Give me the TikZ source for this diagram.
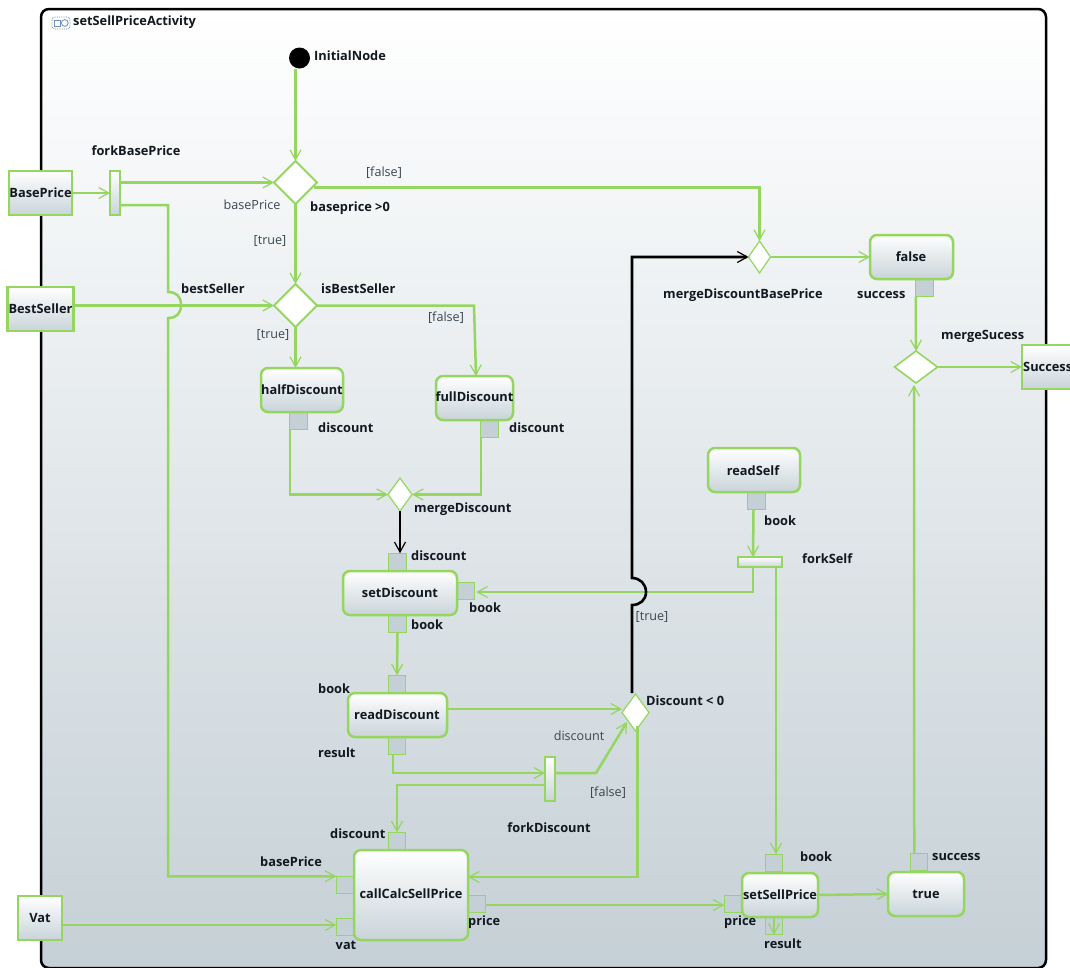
\documentclass[tikz,border=0pt]{standalone}
\usepackage{fontspec}
\setmainfont{Open Sans}
\usetikzlibrary{arrows.meta,shapes.geometric,calc}
\definecolor{gr}{HTML}{94D65F}
\definecolor{pinfill}{HTML}{C5D0D6}
\definecolor{botc}{HTML}{C9D4D9}
\definecolor{txt}{HTML}{111820}
\definecolor{txtreg}{HTML}{3A4650}
\definecolor{icon}{HTML}{6D8FB5}
\tikzset{
  x=1pt,y=-1pt,
  flow/.style={draw=gr,line width=2.5pt,-{Straight Barb[length=10pt,width=11pt,line width=1.2pt]},line join=miter},
  blackflow/.style={flow,draw=black},
  actionbox/.style={draw=gr,line width=2.5pt,rounded corners=7pt,top color=white,bottom color=botc,inner sep=0pt,outer sep=0pt},
  objbox/.style={draw=gr,line width=2.5pt,top color=white,bottom color=botc,inner sep=0pt,outer sep=0pt},
  barbox/.style={draw=gr,line width=2.2pt,top color=white,bottom color=botc,inner sep=0pt,outer sep=0pt},
  pinbox/.style={draw=gr,line width=1.1pt,fill=pinfill,minimum width=17.5pt,minimum height=17.5pt,inner sep=0pt,outer sep=0pt},
  decision/.style={diamond,draw=gr,line width=2pt,fill=white,inner sep=0pt,outer sep=0pt},
  merge/.style={decision,line width=1.2pt},
  lab/.style={font=\fontsize{12.8}{14}\selectfont\bfseries,text=txt,inner sep=0pt},
  guard/.style={font=\fontsize{12.6}{14}\selectfont,text=txtreg,inner sep=0pt},
}
\begin{document}
\begin{tikzpicture}
\useasboundingbox (0,0) rectangle (1070,967);
\clip (0,0) rectangle (1070,967);
\fill[white] (0,0) rectangle (1070,967);
% frame
\draw[black,line width=2.5pt,rounded corners=8pt,top color=white,bottom color=pinfill] (41,9) rectangle (1046,968);
% icon
\draw[icon,line width=.8pt,densely dotted,rounded corners=3pt] (52,17) rectangle (70,29);
\draw[icon,line width=.8pt] (54,20) rectangle (60,26);
\draw[icon,line width=.8pt] (64.8,23) circle (3.4);
\node[lab,anchor=west] (title) at (73,22) {setSellPriceActivity};
% nodes
\node[circle,fill=black,minimum size=21pt,inner sep=0pt,outer sep=0pt] (init) at (299.5,58) {};
\node[lab,anchor=west] (initLab) at (314,56) {InitialNode};

\node[objbox,minimum width=63pt,minimum height=44pt] (basePriceObj) at (40.5,193) {};
\node[objbox,minimum width=66pt,minimum height=44pt] (bestSellerObj) at (40.5,309) {};
\node[objbox,minimum width=44pt,minimum height=44pt] (vatObj) at (40,918) {};
\node[objbox,minimum width=60pt,minimum height=44pt] (successObj) at (1052,367) {};

\node[barbox,minimum width=10pt,minimum height=44pt] (forkBP) at (115,193) {};
\node[barbox,minimum width=10pt,minimum height=44pt] (forkDisc) at (550,779) {};
\node[barbox,minimum width=44pt,minimum height=10pt] (forkSelf) at (760,562) {};

\node[decision,minimum width=43pt,minimum height=43pt] (dBase) at (295.5,182.5) {};
\node[decision,minimum width=43pt,minimum height=43pt] (dBest) at (295.5,305.5) {};
\node[merge,minimum width=22pt,minimum height=32pt] (mBase) at (759.5,257) {};
\node[merge,line width=1.6pt,minimum width=43pt,minimum height=32pt] (mSucc) at (916,367) {};
\node[merge,minimum width=24pt,minimum height=33pt] (mDisc) at (400,494.5) {};
\node[merge,minimum width=27pt,minimum height=37pt] (dDisc) at (635.5,712.5) {};

% pins
\node[pinbox] (pHalf) at (298.5,421) {};
\node[pinbox] (pFull) at (489.5,429) {};
\node[pinbox] (pFalse) at (924.5,288) {};
\node[pinbox] (pReadSelf) at (756.5,501) {};
\node[pinbox] (pSetTop) at (397.5,562) {};
\node[pinbox] (pSetRight) at (465.5,591) {};
\node[pinbox] (pSetBot) at (397.5,624) {};
\node[pinbox] (pReadTop) at (397,684) {};
\node[pinbox] (pReadBot) at (397,746) {};
\node[pinbox] (pCallTop) at (397,841) {};
\node[pinbox] (pCallBase) at (345,885) {};
\node[pinbox] (pCallVat) at (345,927) {};
\node[pinbox] (pCallPrice) at (477,904) {};
\node[pinbox] (pSellBook) at (774,863) {};
\node[pinbox] (pSellPrice) at (733,904) {};
\node[pinbox] (pSellRes) at (774,926) {};
\node[pinbox] (pTrue) at (919,862) {};

% actions
\node[actionbox,minimum width=82pt,minimum height=44pt] (half) at (302,390) {};
\node[actionbox,minimum width=77pt,minimum height=44pt] (full) at (474.5,398) {};
\node[actionbox,minimum width=83pt,minimum height=44pt] (falseAct) at (911.5,257) {};
\node[actionbox,minimum width=92pt,minimum height=44pt] (readSelf) at (754,470) {};
\node[actionbox,minimum width=114pt,minimum height=44pt] (setDisc) at (400,593) {};
\node[actionbox,minimum width=99pt,minimum height=44pt] (readDisc) at (397.5,715) {};
\node[actionbox,minimum width=114pt,minimum height=90pt] (call) at (411,895) {};
\node[actionbox,minimum width=76pt,minimum height=44pt] (setSell) at (780,895) {};
\node[actionbox,minimum width=76pt,minimum height=44pt] (trueAct) at (926,894) {};

% connectors
\draw[flow] (init.south -| dBase.north) -- (dBase.north);
\draw[flow] (basePriceObj.east) -- (forkBP.west);
\draw[flow] ([shift={(0,-10.5)}]forkBP.east) -- (dBase.west);
\draw[flow] ([shift={(0,12)}]forkBP.east) -- ++(48,0) -- (168,292)
   .. controls (176,292) and (181,296) .. (181,305)
   .. controls (181,314) and (176,318) .. (168,318)
   |- (pCallBase.north west);
\draw[flow] (dBase.south) -- (dBest.north);
\draw[flow] ([shift={(-3,5)}]dBase.east) -| (mBase.north);
\draw[flow] (mBase.east) -- (falseAct.west);
\draw[flow] (pFalse.south west) -- (mSucc.north);
\draw[flow] (mSucc.east) -- (successObj.west);
\draw[flow] ([shift={(4,0)}]pTrue.north west) -- ([shift={(-2,2)}]mSucc.south);
\draw[flow] ([shift={(0,-3.5)}]bestSellerObj.east) -- (dBest.west);
\draw[flow] (dBest.south) -- (dBest.south |- half.north);
\draw[flow] (dBest.east) -- (474,305.5) -- (476,376);
\draw[flow] (pHalf.south west) |- (mDisc.west);
\draw[flow] (pFull.south west) |- (mDisc.east);
\draw[blackflow] (mDisc.south) -- (pSetTop.north -| mDisc.south);
\draw[flow] (pSetBot.south) -- (pReadTop.north);
\draw[flow] ([shift={(0,-6)}]readDisc.east) -- ([shift={(0,-3.5)}]dDisc.west);
\draw[flow] ([shift={(-4,0)}]pReadBot.south) |- ([shift={(0,-6)}]forkDisc.west);
\draw[flow] ([shift={(0,-6)}]forkDisc.east) -- (596,773) -- (627,722);
\draw[flow] ([shift={(0,6)}]forkDisc.west) -| (pCallTop.north);
\draw[flow] ([shift={(2,-5)}]dDisc.south) |- ([shift={(0,-18)}]call.east);
\draw[flow] ([shift={(0,1)}]pCallPrice.east) -- ([shift={(0,1)}]pSellPrice.west);
\draw[flow] ([shift={(0,7)}]vatObj.east) -- ([shift={(0,-2)}]pCallVat.west);
\draw[flow] ([shift={(-3,0)}]pReadSelf.south) -- ([shift={(-7,0)}]forkSelf.north);
\draw[flow] ([shift={(-7,0)}]forkSelf.south) |- ([shift={(2,1)}]pSetRight.east);
\draw[flow] ([shift={(16,0)}]forkSelf.south) -- ([shift={(2,0)}]pSellBook.north);
\draw[flow] (setSell.east) -- (trueAct.west);
\draw[flow] (setSell.south -| pSellRes.south) -- (pSellRes.south);
\draw[blackflow,line width=2.6pt] ([shift={(-3.5,-1)}]dDisc.north) -- (632,605)
   .. controls (640,605) and (646,600) .. (646,592)
   .. controls (646,584) and (640,578) .. (632,578)
   |- (mBase.west);

% node labels
\node[lab] at (40.5,193) {BasePrice};
\node[lab] at (40.5,309) {BestSeller};
\node[lab] at (40,918) {Vat};
\node[lab,anchor=west] at (1023,367) {Success};
\node[lab] at (302,390) {halfDiscount};
\node[lab] at (474.5,397) {fullDiscount};
\node[lab] at (911,257) {false};
\node[lab] at (753,471) {readSelf};
\node[lab] at (400,593) {setDiscount};
\node[lab] at (397,715) {readDiscount};
\node[lab] at (411,894) {callCalcSellPrice};
\node[lab] at (780,895) {setSellPrice};
\node[lab] at (926,894) {true};
% other labels
\node[lab] at (136,151) {forkBasePrice};
\node[guard] at (252,205) {basePrice};
\node[lab,anchor=west] at (310,208) {baseprice >0};
\node[guard] at (384,173) {[false]};
\node[guard] at (270,241) {[true]};
\node[lab,anchor=west] at (181,289) {bestSeller};
\node[lab,anchor=west] at (321,289) {isBestSeller};
\node[guard] at (273,335) {[true]};
\node[guard] at (446,318) {[false]};
\node[lab,anchor=west] at (318,428) {discount};
\node[lab,anchor=west] at (509,428) {discount};
\node[lab,anchor=west] at (414,509) {mergeDiscount};
\node[lab,anchor=west] at (411,556) {discount};
\node[lab,anchor=west] at (469,608) {book};
\node[lab,anchor=west] at (411,625) {book};
\node[lab,anchor=west] at (318,689) {book};
\node[lab,anchor=west] at (318,753) {result};
\node[guard] at (579,736) {discount};
\node[lab,anchor=west] at (646,701) {Discount < 0};
\node[guard] at (652,617) {[true]};
\node[guard] at (608,793) {[false]};
\node[lab] at (549,828) {forkDiscount};
\node[lab,anchor=west] at (330,834) {discount};
\node[lab,anchor=west] at (260,862) {basePrice};
\node[lab] at (346,945) {vat};
\node[lab,anchor=west] at (468,922) {price};
\node[lab,anchor=west] at (724,922) {price};
\node[lab,anchor=west] at (764,944) {result};
\node[lab,anchor=west] at (800,857) {book};
\node[lab,anchor=west] at (932,857) {success};
\node[lab,anchor=west] at (857,295) {success};
\node[lab,anchor=west] at (941,336) {mergeSucess};
\node[lab,anchor=west] at (663,295) {mergeDiscountBasePrice};
\node[lab,anchor=west] at (802,559) {forkSelf};
\node[lab,anchor=west] at (764,521) {book};
\end{tikzpicture}
\end{document}
